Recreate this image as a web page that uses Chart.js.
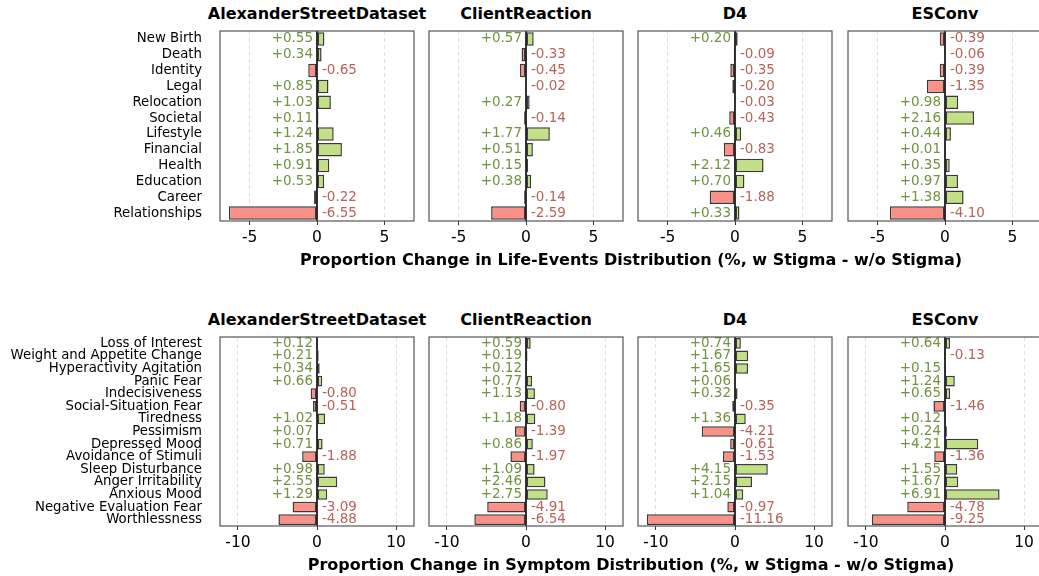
<!DOCTYPE html>
<html>
<head>
<meta charset="utf-8">
<script src="https://cdn.jsdelivr.net/npm/chart.js@4.4.0/dist/chart.umd.min.js"></script>
<style>
body { margin: 0; width: 1039px; height: 576px; overflow: hidden; background: #fff; position: relative; font-family: "DejaVu Sans", sans-serif; }
canvas { position: absolute; }
.titulo { position: absolute; width: 300px; text-align: center; font-weight: bold; font-size: 16px; line-height: 16px; white-space: nowrap; color: #000; }
.eixo { position: absolute; left: 0; width: 1262px; text-align: center; font-weight: bold; font-size: 16px; line-height: 16px; white-space: nowrap; color: #000; }
</style>
</head>
<body>
<script>
// nomes dos datasets (colunas)
const datasets = ["AlexanderStreetDataset", "ClientReaction", "D4", "ESConv"];

// linha de cima: eventos de vida
const lifeEvents = ["New Birth", "Death", "Identity", "Legal", "Relocation", "Societal", "Lifestyle", "Financial", "Health", "Education", "Career", "Relationships"];
const lifeAlex   = [0.55, 0.34, -0.65, 0.85, 1.03, 0.11, 1.24, 1.85, 0.91, 0.53, -0.22, -6.55];
const lifeClient = [0.57, -0.33, -0.45, -0.02, 0.27, -0.14, 1.77, 0.51, 0.15, 0.38, -0.14, -2.59];
const lifeD4     = [0.20, -0.09, -0.35, -0.20, -0.03, -0.43, 0.46, -0.83, 2.12, 0.70, -1.88, 0.33];
const lifeESConv = [-0.39, -0.06, -0.39, -1.35, 0.98, 2.16, 0.44, 0.01, 0.35, 0.97, 1.38, -4.10];
const lifeTicks  = [-5, 0, 5];

// linha de baixo: sintomas
const symptoms = ["Loss of Interest", "Weight and Appetite Change", "Hyperactivity Agitation", "Panic Fear", "Indecisiveness", "Social-Situation Fear", "Tiredness", "Pessimism", "Depressed Mood", "Avoidance of Stimuli", "Sleep Disturbance", "Anger Irritability", "Anxious Mood", "Negative Evaluation Fear", "Worthlessness"];
const symAlex   = [0.12, 0.21, 0.34, 0.66, -0.80, -0.51, 1.02, 0.07, 0.71, -1.88, 0.98, 2.55, 1.29, -3.09, -4.88];
const symClient = [0.59, 0.19, 0.12, 0.77, 1.13, -0.80, 1.18, -1.39, 0.86, -1.97, 1.09, 2.46, 2.75, -4.91, -6.54];
const symD4     = [0.74, 1.67, 1.65, 0.06, 0.32, -0.35, 1.36, -4.21, -0.61, -1.53, 4.15, 2.15, 1.04, -0.97, -11.16];
const symESConv = [0.64, -0.13, 0.15, 1.24, 0.65, -1.46, 0.12, 0.24, 4.21, -1.36, 1.55, 1.67, 6.91, -4.78, -9.25];
const symTicks  = [-10, 0, 10];

const corPosFill = "#c2e184";
const corNegFill = "#fa9086";
const corPosText = "#6f9440";
const corNegText = "#b5645c";

Chart.defaults.font.family = "DejaVu Sans";

const linhas = [
    { cats: lifeEvents, series: [lifeAlex, lifeClient, lifeD4, lifeESConv], ticks: lifeTicks,
      top: 31, height: 190, titleY: 6, labelY: 252,
      label: "Proportion Change in Life-Events Distribution (%, w Stigma - w/o Stigma)" },
    { cats: symptoms, series: [symAlex, symClient, symD4, symESConv], ticks: symTicks,
      top: 337, height: 189, titleY: 312, labelY: 557,
      label: "Proportion Change in Symptom Distribution (%, w Stigma - w/o Stigma)" }
];

const colLefts = [220, 429, 638, 848];
const panelW = 194;
const pad = 3;
const xAxisH = 30;
const yAxisW = 220;

// rótulos de valor, linha do zero e moldura
const rotulosValor = {
    id: "rotulosValor",
    afterDatasetsDraw(chart) {
        const { ctx, chartArea, scales: { x } } = chart;
        const x0 = x.getPixelForValue(0);
        const meta = chart.getDatasetMeta(0);
        const vals = chart.data.datasets[0].data;
        ctx.save();
        ctx.strokeStyle = "#000";
        ctx.lineWidth = 1.6;
        ctx.beginPath();
        ctx.moveTo(x0, chartArea.top);
        ctx.lineTo(x0, chartArea.bottom);
        ctx.stroke();

        ctx.font = '13.5px "DejaVu Sans"';
        ctx.textBaseline = "middle";
        meta.data.forEach((bar, i) => {
            const v = vals[i];
            if (v >= 0) {
                ctx.fillStyle = corPosText;
                ctx.textAlign = "right";
                ctx.fillText("+" + v.toFixed(2), x0 - 4, bar.y);
            } else {
                ctx.fillStyle = corNegText;
                ctx.textAlign = "left";
                ctx.fillText(v.toFixed(2), x0 + 5, bar.y);
            }
        });

        ctx.strokeStyle = "#555";
        ctx.lineWidth = 1.2;
        ctx.strokeRect(chartArea.left, chartArea.top, chartArea.right - chartArea.left, chartArea.bottom - chartArea.top);
        ctx.restore();
    }
};

linhas.forEach(linha => {
    const lim = Math.max(...linha.series.map(s => Math.max(...s.map(Math.abs)))) * 1.1;

    linha.series.forEach((valores, col) => {
        const primeira = col === 0;
        const canvas = document.createElement("canvas");
        const left = primeira ? 0 : colLefts[col] - pad;
        const w = primeira ? yAxisW + panelW + pad : panelW + pad * 2;
        const h = pad + linha.height + xAxisH;
        canvas.width = w;
        canvas.height = h;
        canvas.style.left = left + "px";
        canvas.style.top = (linha.top - pad) + "px";
        canvas.style.width = w + "px";
        canvas.style.height = h + "px";
        document.body.appendChild(canvas);

        new Chart(canvas.getContext("2d"), {
            type: "bar",
            data: {
                labels: linha.cats,
                datasets: [{
                    data: valores,
                    backgroundColor: valores.map(v => v >= 0 ? corPosFill : corNegFill),
                    borderColor: "#3a3a3a",
                    borderWidth: 1.5,
                    borderSkipped: false,
                    barPercentage: 0.85,
                    categoryPercentage: 1
                }]
            },
            options: {
                indexAxis: "y",
                responsive: false,
                animation: false,
                layout: { autoPadding: false, padding: { top: pad, right: pad, left: primeira ? 0 : pad, bottom: 0 } },
                plugins: { legend: { display: false }, tooltip: { enabled: false } },
                scales: {
                    x: {
                        type: "linear",
                        min: -lim,
                        max: lim,
                        afterBuildTicks: s => { s.ticks = linha.ticks.map(v => ({ value: v })); },
                        afterFit: s => { s.height = xAxisH; s.paddingLeft = 0; s.paddingRight = 0; },
                        ticks: {
                            font: { size: 15.5 },
                            color: "#000",
                            padding: 4,
                            autoSkip: false,
                            maxRotation: 0,
                            callback: v => String(v)
                        },
                        grid: {
                            color: c => (c.tick && c.tick.value === 0) ? "rgba(0,0,0,0)" : "#dedede",
                            lineWidth: 1,
                            tickColor: "#333",
                            tickLength: 4
                        },
                        border: { display: false, dash: [4, 3] }
                    },
                    y: {
                        display: primeira,
                        afterFit: s => { s.width = primeira ? yAxisW : 0; s.paddingTop = 0; s.paddingBottom = 0; },
                        ticks: { autoSkip: false, font: { size: 13.3 }, color: "#000", padding: 18 },
                        grid: { display: false, drawTicks: false },
                        border: { display: false }
                    }
                }
            },
            plugins: [rotulosValor]
        });

        const t = document.createElement("div");
        t.className = "titulo";
        t.textContent = datasets[col];
        t.style.left = (colLefts[col] + panelW / 2 - 150) + "px";
        t.style.top = linha.titleY + "px";
        document.body.appendChild(t);
    });

    const e = document.createElement("div");
    e.className = "eixo";
    e.textContent = linha.label;
    e.style.top = linha.labelY + "px";
    document.body.appendChild(e);
});
</script>
</body>
</html>
